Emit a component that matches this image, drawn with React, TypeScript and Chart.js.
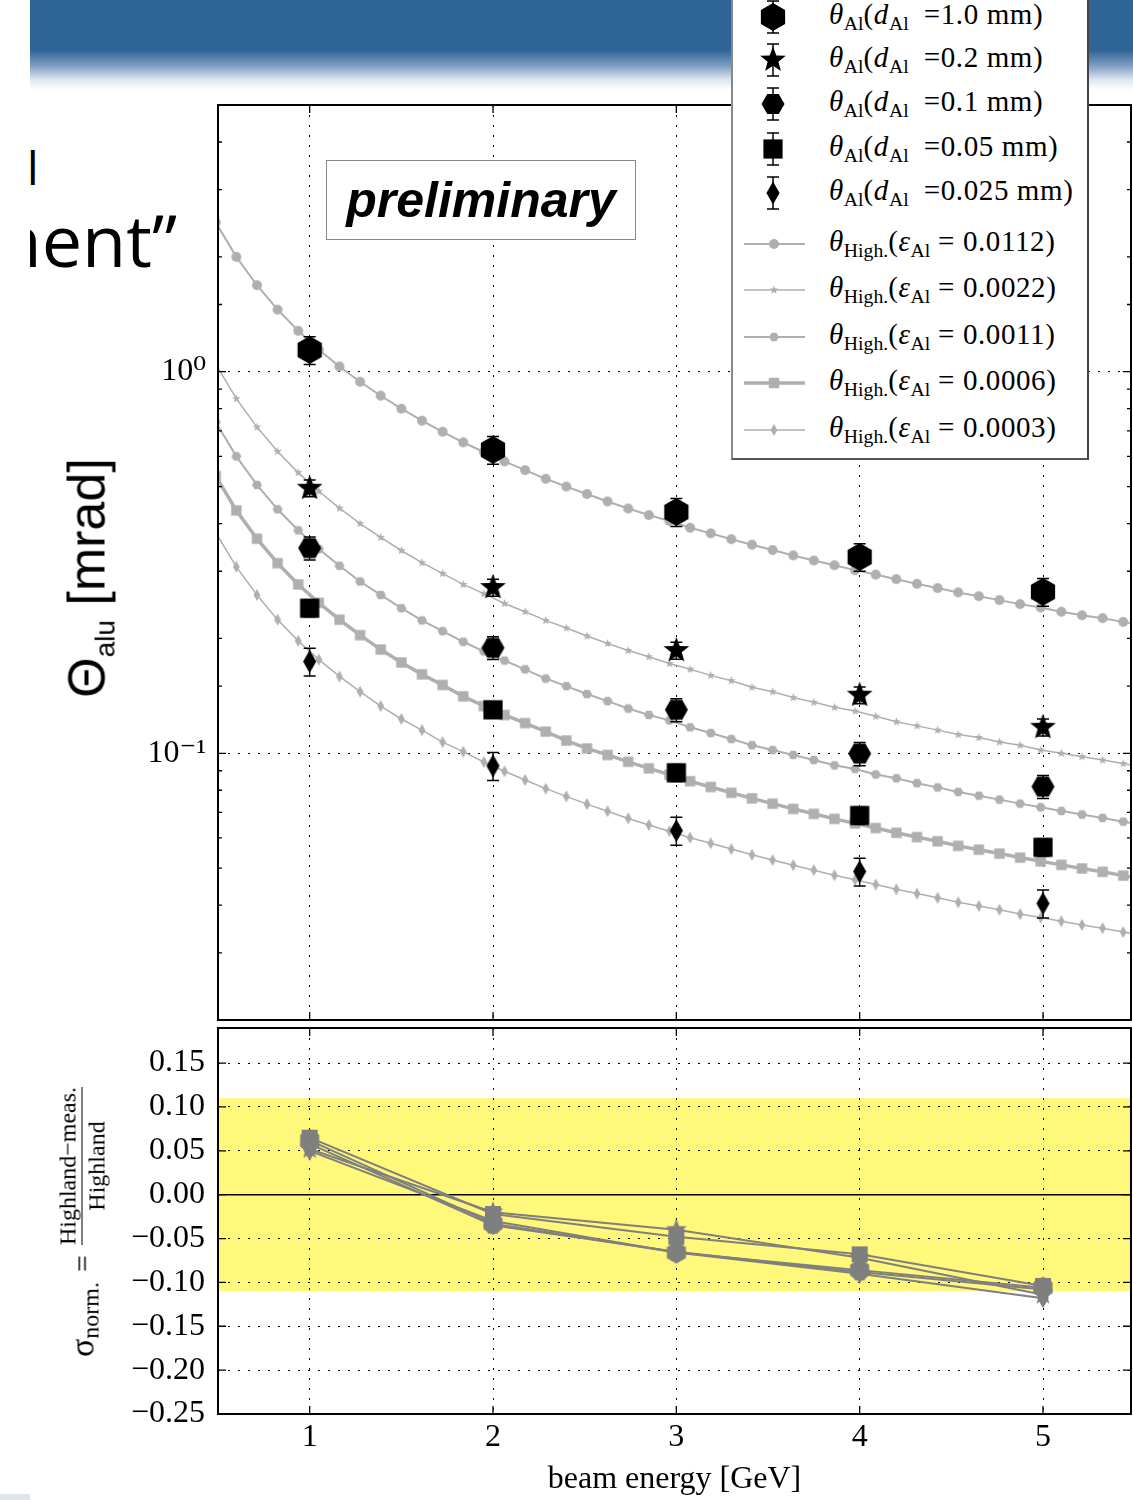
import React, { useEffect, useRef } from 'react';
import { Chart, registerables } from 'chart.js';

Chart.register(...registerables);

// ---------------- data ----------------
const energyGeV = [1, 2, 3, 4, 5];

const thetaD10 = [1.14, 0.624, 0.429, 0.327, 0.265];
const thetaD02 = [0.495, 0.272, 0.186, 0.142, 0.117];
const thetaD01 = [0.345, 0.189, 0.13, 0.0998, 0.0818];
const thetaD005 = [0.24, 0.13, 0.0889, 0.0687, 0.0567];
const thetaD0025 = [0.174, 0.0927, 0.0627, 0.049, 0.0404];

const errD10 = [0.095, 0.052, 0.036, 0.027, 0.022];
const errD02 = [0.025, 0.014, 0.0095, 0.0072, 0.006];
const errD01 = [0.024, 0.013, 0.009, 0.007, 0.0057];
const errD005 = [0.012, 0.0065, 0.0045, 0.0035, 0.0029];
const errD0025 = [0.0146, 0.0078, 0.0053, 0.0041, 0.0034];

const highlandE = [0.4875, 0.6, 0.7125, 0.825, 0.9375, 1.05, 1.1625, 1.275, 1.3875, 1.5, 1.6125, 1.725, 1.8375, 1.95, 2.0625, 2.175, 2.2875, 2.4, 2.5125, 2.625, 2.7375, 2.85, 2.9625, 3.075, 3.1875, 3.3, 3.4125, 3.525, 3.6375, 3.75, 3.8625, 3.975, 4.0875, 4.2, 4.3125, 4.425, 4.5375, 4.65, 4.7625, 4.875, 4.9875, 5.1, 5.2125, 5.325, 5.4375, 5.55];
const high0112 = [2.461, 2.0, 1.685, 1.454, 1.28, 1.142, 1.032, 0.941, 0.865, 0.8, 0.744, 0.696, 0.653, 0.616, 0.582, 0.552, 0.524, 0.5, 0.478, 0.457, 0.438, 0.421, 0.406, 0.39, 0.377, 0.364, 0.352, 0.341, 0.33, 0.32, 0.311, 0.302, 0.294, 0.286, 0.278, 0.271, 0.264, 0.258, 0.252, 0.246, 0.241, 0.235, 0.23, 0.226, 0.221, 0.216];
const high0022 = [1.046, 0.85, 0.716, 0.618, 0.544, 0.486, 0.439, 0.4, 0.368, 0.34, 0.316, 0.296, 0.277, 0.262, 0.247, 0.235, 0.223, 0.213, 0.203, 0.194, 0.186, 0.179, 0.172, 0.166, 0.16, 0.155, 0.149, 0.145, 0.14, 0.136, 0.132, 0.129, 0.125, 0.121, 0.118, 0.115, 0.112, 0.11, 0.107, 0.105, 0.102, 0.1, 0.098, 0.096, 0.094, 0.092];
const high0011 = [0.738, 0.6, 0.505, 0.436, 0.384, 0.343, 0.31, 0.282, 0.26, 0.24, 0.223, 0.209, 0.196, 0.185, 0.175, 0.166, 0.157, 0.15, 0.143, 0.137, 0.131, 0.126, 0.122, 0.117, 0.113, 0.109, 0.105, 0.102, 0.099, 0.096, 0.093, 0.091, 0.088, 0.086, 0.0835, 0.0814, 0.0792, 0.0774, 0.0756, 0.0738, 0.0722, 0.0706, 0.0691, 0.0677, 0.0662, 0.0648];
const high0006 = [0.533, 0.433, 0.365, 0.315, 0.277, 0.248, 0.224, 0.204, 0.187, 0.173, 0.161, 0.151, 0.141, 0.133, 0.126, 0.12, 0.114, 0.108, 0.103, 0.099, 0.095, 0.0913, 0.0879, 0.0845, 0.0816, 0.0788, 0.0762, 0.0738, 0.0715, 0.0694, 0.0673, 0.0655, 0.0637, 0.0619, 0.0603, 0.0588, 0.0572, 0.0559, 0.0546, 0.0533, 0.0521, 0.051, 0.0499, 0.0489, 0.0478, 0.0468];
const high0003 = [0.379, 0.308, 0.26, 0.224, 0.197, 0.176, 0.159, 0.145, 0.133, 0.123, 0.115, 0.107, 0.101, 0.0949, 0.0897, 0.0851, 0.0808, 0.0771, 0.0736, 0.0705, 0.0675, 0.0649, 0.0625, 0.0601, 0.0581, 0.0561, 0.0542, 0.0525, 0.0509, 0.0494, 0.0479, 0.0466, 0.0453, 0.044, 0.0429, 0.0418, 0.0407, 0.0398, 0.0389, 0.0379, 0.0371, 0.0363, 0.0355, 0.0348, 0.034, 0.0333];

const devD10 = [0.062, -0.033, -0.066, -0.086, -0.106];
const devD02 = [0.052, -0.02, -0.04, -0.072, -0.114];
const devD01 = [0.058, -0.035, -0.065, -0.088, -0.108];
const devD005 = [0.065, -0.022, -0.048, -0.068, -0.104];
const devD0025 = [0.05, -0.03, -0.066, -0.09, -0.118];

const bandHalfWidth = 0.11;

const thicknessLabels = ['1.0', '0.2', '0.1', '0.05', '0.025'];
const epsilonLabels = ['0.0112', '0.0022', '0.0011', '0.0006', '0.0003'];

// ---------------- styling helpers ----------------
const SERIF = '"Liberation Serif", "DejaVu Serif", serif';
const SANS = '"Liberation Sans", Arial, sans-serif';
const CURVE_GRAY = 'rgb(175,175,175)';
const DEV_GRAY = '#7f7f7f';

type Shape = 'circle' | 'hexV' | 'hexF' | 'star' | 'square' | 'thinDiamond';

function shapePts(shape: Shape, r: number): number[][] | null {
  const pts: number[][] = [];
  if (shape === 'circle') return null;
  if (shape === 'hexV' || shape === 'hexF') {
    const off = shape === 'hexV' ? -Math.PI / 2 : 0;
    for (let k = 0; k < 6; k++) {
      const a = off + (k * Math.PI) / 3;
      pts.push([r * Math.cos(a), r * Math.sin(a)]);
    }
  } else if (shape === 'star') {
    for (let k = 0; k < 10; k++) {
      const rr = k % 2 ? r * 0.42 : r;
      const a = -Math.PI / 2 + (k * Math.PI) / 5;
      pts.push([rr * Math.cos(a), rr * Math.sin(a)]);
    }
  } else if (shape === 'square') {
    const h = r * 0.8;
    pts.push([-h, -h], [h, -h], [h, h], [-h, h]);
  } else {
    pts.push([0, -r], [0.57 * r, 0], [0, r], [-0.57 * r, 0]);
  }
  return pts;
}

function makeMarker(shape: Shape, r: number, color: string): HTMLCanvasElement {
  const s = Math.ceil(2 * r) + 4;
  const c = document.createElement('canvas');
  c.width = s;
  c.height = s;
  const g = c.getContext('2d')!;
  g.translate(s / 2, s / 2);
  g.fillStyle = color;
  g.beginPath();
  const pts = shapePts(shape, r);
  if (!pts) g.arc(0, 0, r, 0, Math.PI * 2);
  else {
    pts.forEach((p, i) => (i ? g.lineTo(p[0], p[1]) : g.moveTo(p[0], p[1])));
    g.closePath();
  }
  g.fill();
  return c;
}

const isDecade = (v: number) => Math.abs(Math.log10(v) - Math.round(Math.log10(v))) < 1e-9;

const dataShapes: { shape: Shape; r: number }[] = [
  { shape: 'hexV', r: 14 },
  { shape: 'star', r: 13.5 },
  { shape: 'hexF', r: 11.5 },
  { shape: 'square', r: 12 },
  { shape: 'thinDiamond', r: 11.5 },
];
const curveShapes: { shape: Shape; r: number; w: number }[] = [
  { shape: 'circle', r: 5, w: 2 },
  { shape: 'star', r: 4.5, w: 1.5 },
  { shape: 'hexF', r: 5, w: 2 },
  { shape: 'square', r: 6.5, w: 3.5 },
  { shape: 'thinDiamond', r: 6, w: 1.5 },
];
const devShapes: { shape: Shape; r: number }[] = [
  { shape: 'hexV', r: 11 },
  { shape: 'star', r: 11 },
  { shape: 'hexF', r: 9.5 },
  { shape: 'square', r: 10 },
  { shape: 'thinDiamond', r: 10 },
];

// ---------------- plugins ----------------
const errorBarPlugin = {
  id: 'errorBars',
  afterDatasetsDraw(chart: any) {
    const { ctx } = chart;
    const ys = chart.scales.y;
    chart.data.datasets.forEach((ds: any, di: number) => {
      if (!ds.errors) return;
      const meta = chart.getDatasetMeta(di);
      ctx.save();
      ctx.strokeStyle = '#000';
      ctx.lineWidth = 1.5;
      meta.data.forEach((pt: any, i: number) => {
        const v = ds.data[i].y;
        const e = ds.errors[i];
        const y1 = ys.getPixelForValue(v + e);
        const y2 = ys.getPixelForValue(v - e);
        const x = pt.x;
        ctx.beginPath();
        ctx.moveTo(x, y1);
        ctx.lineTo(x, y2);
        ctx.moveTo(x - 6, y1);
        ctx.lineTo(x + 6, y1);
        ctx.moveTo(x - 6, y2);
        ctx.lineTo(x + 6, y2);
        ctx.stroke();
      });
      ctx.restore();
    });
  },
};

const framePlugin = {
  id: 'frame',
  afterDatasetsDraw(chart: any) {
    const { ctx, chartArea: a } = chart;
    const xs = chart.scales.x;
    const ys = chart.scales.y;
    ctx.save();
    ctx.strokeStyle = '#000';
    ctx.lineWidth = 1.3;
    ctx.beginPath();
    xs.ticks.forEach((t: any) => {
      const px = xs.getPixelForValue(t.value);
      ctx.moveTo(px, a.top);
      ctx.lineTo(px, a.top + 8);
      ctx.moveTo(px, a.bottom);
      ctx.lineTo(px, a.bottom - 8);
    });
    ys.ticks.forEach((t: any) => {
      const py = ys.getPixelForValue(t.value);
      const major = ys.type !== 'logarithmic' || isDecade(t.value);
      const L = major ? 8 : 4;
      ctx.moveTo(a.left, py);
      ctx.lineTo(a.left + L, py);
      ctx.moveTo(a.right, py);
      ctx.lineTo(a.right - L, py);
    });
    ctx.stroke();
    ctx.lineWidth = 2;
    ctx.strokeRect(a.left, a.top, a.right - a.left, a.bottom - a.top);
    ctx.restore();
  },
};

const bandPlugin = {
  id: 'band',
  beforeDraw(chart: any) {
    const { ctx, chartArea: a } = chart;
    const ys = chart.scales.y;
    const t = ys.getPixelForValue(bandHalfWidth);
    const b = ys.getPixelForValue(-bandHalfWidth);
    ctx.save();
    ctx.fillStyle = '#fff87a';
    ctx.fillRect(a.left, t, a.right - a.left, b - t);
    ctx.restore();
  },
  beforeDatasetsDraw(chart: any) {
    const { ctx, chartArea: a } = chart;
    const y0 = chart.scales.y.getPixelForValue(0);
    ctx.save();
    ctx.strokeStyle = '#000';
    ctx.lineWidth = 1.5;
    ctx.beginPath();
    ctx.moveTo(a.left, y0);
    ctx.lineTo(a.right, y0);
    ctx.stroke();
    ctx.restore();
  },
};

const fitY = (w: number) => (s: any) => {
  s.width = w;
  s.paddingTop = 0;
  s.paddingBottom = 0;
};
const fitX = (h: number) => (s: any) => {
  s.height = h;
  s.paddingLeft = 0;
  s.paddingRight = 0;
};

// ---------------- configs ----------------
function topConfig(): any {
  const dataSeries = [thetaD10, thetaD02, thetaD01, thetaD005, thetaD0025];
  const errSeries = [errD10, errD02, errD01, errD005, errD0025];
  const curves = [high0112, high0022, high0011, high0006, high0003];
  const datasets: any[] = [];
  dataSeries.forEach((vals, k) => {
    datasets.push({
      label: `d_Al = ${thicknessLabels[k]} mm`,
      data: energyGeV.map((x, i) => ({ x, y: vals[i] })),
      errors: errSeries[k],
      showLine: false,
      pointStyle: makeMarker(dataShapes[k].shape, dataShapes[k].r, '#000'),
      pointRadius: 6,
      pointHoverRadius: 6,
    });
  });
  curves.forEach((vals, k) => {
    datasets.push({
      label: `Highland eps = ${epsilonLabels[k]}`,
      data: highlandE.map((x, i) => ({ x, y: vals[i] })),
      showLine: true,
      borderColor: CURVE_GRAY,
      borderWidth: curveShapes[k].w,
      pointStyle: makeMarker(curveShapes[k].shape, curveShapes[k].r, CURVE_GRAY),
      pointRadius: 4,
      pointHoverRadius: 4,
      clip: 0,
    });
  });
  return {
    type: 'scatter',
    data: { datasets },
    options: {
      animation: false,
      responsive: false,
      events: [],
      layout: { autoPadding: false, padding: { top: 5, right: 2, left: 0, bottom: 0 } },
      plugins: { legend: { display: false }, tooltip: { enabled: false } },
      scales: {
        x: {
          type: 'linear',
          min: 0.5,
          max: 5.48,
          ticks: { display: false, stepSize: 1, includeBounds: false },
          grid: { color: '#000', lineWidth: 1, drawTicks: false },
          border: { display: false, dash: [2, 8] },
          afterFit: fitX(2),
        },
        y: {
          type: 'logarithmic',
          min: 0.02,
          max: 5,
          ticks: {
            autoSkip: false,
            padding: 12,
            color: '#000',
            font: { family: SERIF, size: 32 },
            callback: (v: any) => {
              const n = Number(v);
              if (Math.abs(n - 1) < 1e-9) return '10⁰';
              if (Math.abs(n - 0.1) < 1e-9) return '10⁻¹';
              return '';
            },
          },
          grid: {
            drawTicks: false,
            lineWidth: 1,
            color: (c: any) => (c.tick && isDecade(c.tick.value) ? '#000' : 'rgba(0,0,0,0)'),
          },
          border: { display: false, dash: [2, 8] },
          afterFit: fitY(218),
        },
      },
    },
    plugins: [errorBarPlugin, framePlugin],
  };
}

function bottomConfig(): any {
  const devSeries = [devD10, devD02, devD01, devD005, devD0025];
  const datasets = devSeries.map((vals, k) => ({
    label: `deviation d_Al = ${thicknessLabels[k]} mm`,
    data: energyGeV.map((x, i) => ({ x, y: vals[i] })),
    showLine: true,
    borderColor: DEV_GRAY,
    borderWidth: 2,
    pointStyle: makeMarker(devShapes[k].shape, devShapes[k].r, DEV_GRAY),
    pointRadius: 6,
    pointHoverRadius: 6,
  }));
  return {
    type: 'scatter',
    data: { datasets },
    options: {
      animation: false,
      responsive: false,
      events: [],
      layout: { autoPadding: false, padding: { top: 8, right: 2, left: 0, bottom: 0 } },
      plugins: { legend: { display: false }, tooltip: { enabled: false } },
      scales: {
        x: {
          type: 'linear',
          min: 0.5,
          max: 5.48,
          ticks: {
            stepSize: 1,
            includeBounds: false,
            padding: 4,
            color: '#000',
            font: { family: SERIF, size: 32 },
          },
          grid: { color: '#000', lineWidth: 1, drawTicks: false },
          border: { display: false, dash: [2, 8] },
          title: {
            display: true,
            text: 'beam energy [GeV]',
            color: '#000',
            font: { family: SERIF, size: 32 },
            padding: { top: 0, bottom: 1 },
          },
          afterFit: fitX(86),
        },
        y: {
          type: 'linear',
          min: -0.25,
          max: 0.19,
          ticks: {
            stepSize: 0.05,
            includeBounds: false,
            autoSkip: false,
            padding: 13,
            color: '#000',
            font: { family: SERIF, size: 32 },
            callback: (v: any) => {
              const n = Math.round(Number(v) * 100) / 100;
              if (Math.abs(n) < 1e-9) return '0.00';
              return (n < 0 ? '\u2212' : '') + Math.abs(n).toFixed(2);
            },
          },
          grid: { color: '#000', lineWidth: 1, drawTicks: false },
          border: { display: false, dash: [2, 8] },
          afterFit: fitY(218),
        },
      },
    },
    plugins: [bandPlugin, framePlugin],
  };
}

// ---------------- legend glyphs ----------------
function GlyphShape({ shape, r, color, cx, cy }: { shape: Shape; r: number; color: string; cx: number; cy: number }) {
  const pts = shapePts(shape, r);
  if (!pts) return <circle cx={cx} cy={cy} r={r} fill={color} />;
  return <polygon points={pts.map((p) => `${cx + p[0]},${cy + p[1]}`).join(' ')} fill={color} />;
}

const legendDataY = [17, 60, 104, 149, 193];
const legendCurveY = [244, 290, 337, 383, 430];

export default function App() {
  const topRef = useRef<HTMLCanvasElement>(null);
  const botRef = useRef<HTMLCanvasElement>(null);

  useEffect(() => {
    const top = new Chart(topRef.current!, topConfig());
    const bot = new Chart(botRef.current!, bottomConfig());
    return () => {
      top.destroy();
      bot.destroy();
    };
  }, []);

  const subStyle: React.CSSProperties = { fontSize: '0.68em', verticalAlign: '-0.32em', lineHeight: 0, letterSpacing: 0 };
  const legendText: React.CSSProperties = {
    position: 'absolute',
    left: 829,
    height: 32,
    lineHeight: '32px',
    fontFamily: SERIF,
    fontSize: 29,
    letterSpacing: '0.6px',
    whiteSpace: 'nowrap',
    color: '#000',
  };

  return (
    <div
      style={{
        position: 'absolute',
        left: 0,
        top: 0,
        width: 1133,
        height: 1500,
        overflow: 'hidden',
        background: '#fff',
      }}
    >
      {/* slide banner */}
      <div
        style={{
          position: 'absolute',
          left: 30,
          top: 0,
          width: 1103,
          height: 92,
          background:
            'linear-gradient(to bottom, #2f6496 0px, #2f6496 50px, #7f9fc2 66px, #dfe7f0 80px, #ffffff 90px)',
        }}
      />
      {/* slide title fragments */}
      <div style={{ position: 'absolute', left: 30, top: 140, width: 190, height: 150, overflow: 'hidden' }}>
        <span
          style={{
            position: 'absolute',
            left: -3,
            top: 4,
            fontFamily: '"Open Sans", sans-serif',
            fontSize: 46,
            lineHeight: '46px',
            color: '#000',
            whiteSpace: 'nowrap',
          }}
        >
          l
        </span>
        <span
          style={{
            position: 'absolute',
            left: -55,
            top: 63,
            fontFamily: '"Open Sans", sans-serif',
            fontSize: 72,
            lineHeight: '72px',
            color: '#000',
            whiteSpace: 'nowrap',
          }}
        >
          ment”
        </span>
      </div>
      <div style={{ position: 'absolute', left: 0, top: 1494, width: 30, height: 6, background: '#dde6f0' }} />

      <canvas
        ref={topRef}
        width={1133}
        height={922}
        style={{ position: 'absolute', left: 0, top: 100, width: 1133, height: 922 }}
      />
      <canvas
        ref={botRef}
        width={1133}
        height={480}
        style={{ position: 'absolute', left: 0, top: 1020, width: 1133, height: 480 }}
      />

      {/* y axis titles */}
      <div
        style={{
          position: 'absolute',
          left: 96,
          top: 578,
          transform: 'translate(-50%, -50%) rotate(-90deg)',
          fontFamily: SANS,
          fontSize: 52,
          lineHeight: '60px',
          whiteSpace: 'nowrap',
          color: '#000',
        }}
      >
        Θ<span style={{ fontSize: 28, verticalAlign: '-10px' }}>alu</span> [mrad]
      </div>
      <div
        style={{
          position: 'absolute',
          left: 82,
          top: 1222,
          transform: 'translate(-50%, -50%) rotate(-90deg)',
          fontFamily: SERIF,
          whiteSpace: 'nowrap',
          display: 'flex',
          alignItems: 'center',
          color: '#000',
        }}
      >
        <span style={{ fontSize: 34 }}>σ</span>
        <span style={{ fontSize: 24, position: 'relative', top: 9 }}>norm.</span>
        <span style={{ fontSize: 30, margin: '0 10px' }}>=</span>
        <span
          style={{
            display: 'inline-flex',
            flexDirection: 'column',
            alignItems: 'center',
            fontSize: 24,
            lineHeight: '24px',
          }}
        >
          <span>Highland−meas.</span>
          <span style={{ borderTop: '1.5px solid #000', alignSelf: 'stretch', margin: '2px 0' }} />
          <span>Highland</span>
        </span>
      </div>

      {/* preliminary label */}
      <div
        style={{
          position: 'absolute',
          left: 326,
          top: 160,
          width: 310,
          height: 80,
          boxSizing: 'border-box',
          border: '1.5px solid #888',
          background: '#fff',
          display: 'flex',
          alignItems: 'center',
          justifyContent: 'center',
          fontFamily: SANS,
          fontWeight: 'bold',
          fontStyle: 'italic',
          fontSize: 50,
          color: '#000',
        }}
      >
        preliminary
      </div>

      {/* legend */}
      <div
        style={{
          position: 'absolute',
          left: 731,
          top: -10,
          width: 358,
          height: 470,
          boxSizing: 'border-box',
          border: '2px solid #888',
          borderRightColor: '#444',
          borderBottomColor: '#555',
          background: '#fff',
        }}
      />
      <svg
        width={1133}
        height={470}
        style={{ position: 'absolute', left: 0, top: 0, pointerEvents: 'none' }}
      >
        {legendDataY.map((cy, k) => (
          <g key={'d' + k}>
            <line x1={773} y1={cy - 16} x2={773} y2={cy + 16} stroke="#000" strokeWidth={1.5} />
            <line x1={767} y1={cy - 16} x2={779} y2={cy - 16} stroke="#000" strokeWidth={1.5} />
            <line x1={767} y1={cy + 16} x2={779} y2={cy + 16} stroke="#000" strokeWidth={1.5} />
            <GlyphShape shape={dataShapes[k].shape} r={dataShapes[k].r} color="#000" cx={773} cy={cy} />
          </g>
        ))}
        {legendCurveY.map((cy, k) => (
          <g key={'c' + k}>
            <line x1={744} y1={cy} x2={805} y2={cy} stroke={CURVE_GRAY} strokeWidth={curveShapes[k].w} />
            <GlyphShape shape={curveShapes[k].shape} r={curveShapes[k].r} color={CURVE_GRAY} cx={774} cy={cy} />
          </g>
        ))}
      </svg>
      {legendDataY.map((cy, k) => (
        <div key={'td' + k} style={{ ...legendText, top: cy - 19 }}>
          <i>θ</i>
          <span style={subStyle}>Al</span>(<i>d</i>
          <span style={subStyle}>Al</span>
          {'\u2002'}={thicknessLabels[k]} mm)
        </div>
      ))}
      {legendCurveY.map((cy, k) => (
        <div key={'tc' + k} style={{ ...legendText, top: cy - 19 }}>
          <i>θ</i>
          <span style={subStyle}>High.</span>(<i>ε</i>
          <span style={subStyle}>Al</span> = {epsilonLabels[k]})
        </div>
      ))}
    </div>
  );
}
